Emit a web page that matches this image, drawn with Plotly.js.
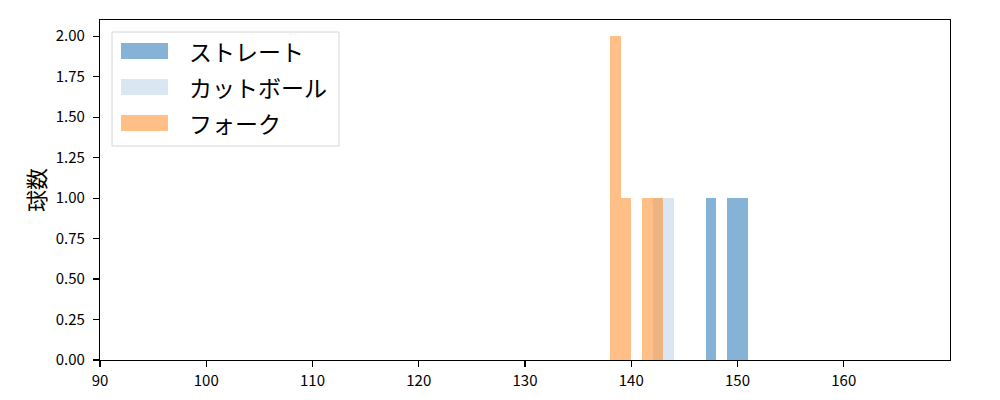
<!DOCTYPE html>
<html><head><meta charset="utf-8">
<script src="https://cdn.plot.ly/plotly-3.0.1.min.js"></script>
<style>body{margin:0;padding:0;background:#fff}#chart{width:1000px;height:400px}</style>
</head><body><div id="chart"></div>
<script>
// Histogram bins (left edge, right edge) and counts per pitch type
const seriesNames = ["ストレート", "カットボール", "フォーク"];
const straightLeft = [147, 149, 150];
const straightRight = [148, 150, 151];
const straightCount = [1, 1, 1];
const cutLeft = [142, 143];
const cutRight = [143, 144];
const cutCount = [1, 1];
const forkLeft = [138, 139, 141, 142];
const forkRight = [139, 140, 142, 143];
const forkCount = [2, 1, 1, 1];
const colors = ["#85b2d7", "#dae6f2", "#ff7f0e"];
const opacities = [1, 1, 0.5];
const yTicks = [0, 0.25, 0.5, 0.75, 1.0, 1.25, 1.5, 1.75, 2.0];
const xTicks = [90, 100, 110, 120, 130, 140, 150, 160];

function barTrace(left, right, count, name, color, op) {
  return {
    type: "bar",
    name: name,
    x: left.map((l, i) => (l + right[i]) / 2),
    width: left.map((l, i) => right[i] - l),
    y: count,
    marker: {color: color, opacity: op, line: {width: 0}},
    hoverinfo: "x+y"
  };
}
const traces = [
  barTrace(straightLeft, straightRight, straightCount, seriesNames[0], colors[0], opacities[0]),
  barTrace(cutLeft, cutRight, cutCount, seriesNames[1], colors[1], opacities[1]),
  barTrace(forkLeft, forkRight, forkCount, seriesNames[2], colors[2], opacities[2])
];

// Custom legend (matplotlib style) in paper coordinates
const W = 850, H = 340;
const px = x => (x - 100) / W;
const py = y => (360 - y) / H;
const shapes = [{
  type: "rect", xref: "paper", yref: "paper",
  x0: px(112), x1: px(339), y0: py(146), y1: py(32),
  line: {color: "#d6d6d6", width: 1}, fillcolor: "rgba(255,255,255,0.8)", layer: "above"
}];
const annotations = [];
const rowY = [51, 87, 123];
seriesNames.forEach((n, i) => {
  shapes.push({
    type: "rect", xref: "paper", yref: "paper",
    x0: px(121), x1: px(168), y0: py(rowY[i] + 8), y1: py(rowY[i] - 8),
    line: {width: 0}, fillcolor: colors[i], opacity: opacities[i], layer: "above"
  });
  annotations.push({
    xref: "paper", yref: "paper", x: px(187), y: py(rowY[i]),
    xanchor: "left", yanchor: "middle", showarrow: false, text: n,
    font: {size: 23, color: "#000", family: "Noto Sans CJK JP, sans-serif"}
  });
});

const layout = {
  width: 1000, height: 400,
  margin: {l: 100, r: 50, t: 20, b: 40},
  paper_bgcolor: "#fff", plot_bgcolor: "#fff",
  barmode: "overlay", bargap: 0, showlegend: false,
  font: {family: "Noto Sans CJK JP, sans-serif", size: 15, color: "#000"},
  xaxis: {
    range: [90, 170], tickvals: xTicks, ticktext: xTicks.map(String),
    ticks: "outside", ticklen: 6, tickwidth: 1.2, tickcolor: "#000",
    showgrid: false, zeroline: false, ticklabelstandoff: 1,
    showline: true, linecolor: "#000", linewidth: 1.2, mirror: true,
    tickfont: {size: 15, family: "Noto Sans CJK JP, sans-serif"}
  },
  yaxis: {
    range: [0, 2.1], tickvals: yTicks, ticktext: yTicks.map(v => v.toFixed(2)),
    ticks: "outside", ticklen: 6, tickwidth: 1.2, tickcolor: "#000",
    showgrid: false, zeroline: false, ticklabelstandoff: 5,
    showline: true, linecolor: "#000", linewidth: 1.2, mirror: true,
    tickfont: {size: 15, family: "Noto Sans CJK JP, sans-serif"},
    title: {text: "球数", font: {size: 22, family: "Noto Sans CJK JP, sans-serif"}, standoff: 4}
  },
  shapes: shapes,
  annotations: annotations
};
Plotly.newPlot("chart", traces, layout, {displayModeBar: false, staticPlot: true});
</script></body></html>
